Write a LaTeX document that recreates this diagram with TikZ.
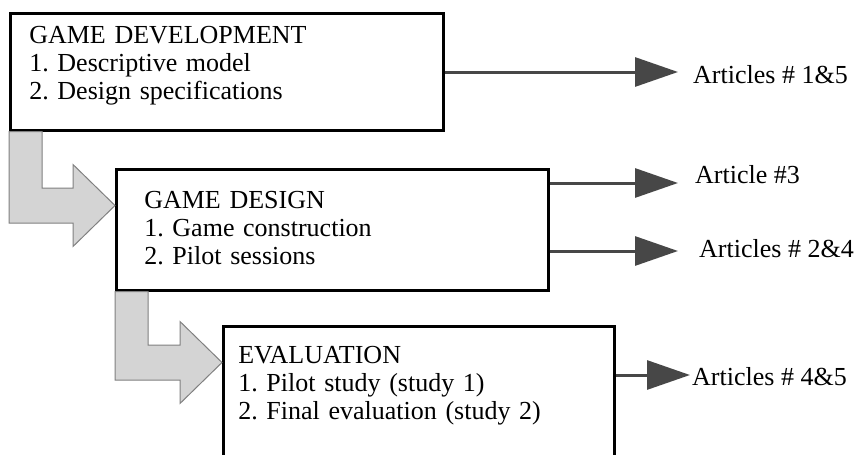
\documentclass[tikz,border=0pt]{standalone}
\usepackage{fontspec}
\setmainfont{Liberation Serif}
\frenchspacing
\usetikzlibrary{calc,arrows.meta}
\def\bendarrow[#1](#2)(#3){\draw[#1] (#2) -- ++(33,0) |- ($(#3)+(-42,-17.5)$) -- ++(0,-23.5) -- (#3) -- ++(-42,41) -- ++(0,-23.5) -| (#2) -- cycle;}

\begin{document}
\begin{tikzpicture}[x=1pt, y=-1pt,
		stage/.style={draw, line width=2.6pt, fill=white, anchor=north west, align=left, inner ysep=0pt, font=\fontsize{26pt}{28pt}\selectfont},
		flowarrow/.style={line width=1pt, draw=black!50, fill=black!17},
		pubarrow/.style={line width=3pt, color=black!72, -{Triangle[length=43pt, width=29pt]}},
		article/.style={anchor=base west, inner sep=0pt, font=\fontsize{26pt}{28pt}\selectfont}]
		%%%%% START %%%%%
		
		\useasboundingbox (0, 0) rectangle (860, 455);
		\clip (0, 0) rectangle (860, 455);
		
		\node[stage, inner xsep=19pt, text width=395pt, text height=30pt, text depth=87pt] (dev) at (9, 12) {GAME DEVELOPMENT\\1. Descriptive model\\2. Design specifications};
		\node[stage, inner xsep=28pt, text width=376pt, text height=39pt, text depth=82pt] (des) at (115, 168) {GAME DESIGN\\1. Game construction\\2. Pilot sessions};
		\node[stage, inner xsep=15pt, text width=361pt, text height=37pt, text depth=130pt] (eva) at (222, 325) {EVALUATION\\1. Pilot study (study 1)\\2. Final evaluation (study 2)};
		
		\coordinate (desin) at ($(des.north west)+(0, 37.5)$);
		\coordinate (evain) at ($(eva.north west)+(0, 37.5)$);
		\bendarrow[flowarrow](dev.south west)(desin)
		\bendarrow[flowarrow](des.south west)(evain)
		
		\node[article] (art15) at (693, 83) {Articles \# 1\&5};
		\node[article] (art3) at (695, 183) {Article \#3};
		\node[article] (art24) at (699, 257) {Articles \# 2\&4};
		\node[article] (art45) at (692, 385) {Articles \# 4\&5};
		
		\coordinate (tip15) at (678, 72);
		\coordinate (tip3) at (678, 183);
		\coordinate (tip24) at (678, 251);
		\coordinate (tip45) at (690, 375);
		\draw[pubarrow] (dev.east |- tip15) -- (tip15);
		\draw[pubarrow] (des.east |- tip3) -- (tip3);
		\draw[pubarrow] (des.east |- tip24) -- (tip24);
		\draw[pubarrow] (eva.east |- tip45) -- (tip45);
		
		%%%%% END %%%%%
	\end{tikzpicture}
\end{document}
